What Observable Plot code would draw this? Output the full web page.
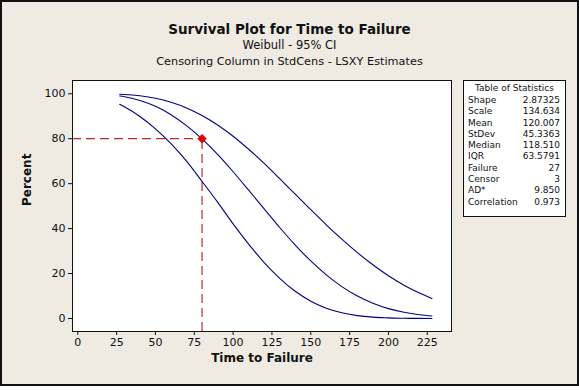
<!DOCTYPE html>
<html>
<head>
<meta charset="utf-8">
<script src="https://cdn.jsdelivr.net/npm/d3@7"></script>
<script src="https://cdn.jsdelivr.net/npm/@observablehq/plot@0.6"></script>
<style>
  html, body { margin: 0; padding: 0; background: #ffffff; }
  #wrap { position: relative; width: 579px; height: 391px; overflow: hidden; font-family: "DejaVu Sans", sans-serif; }
  #panel { position: absolute; left: 0; top: 0; width: 575px; height: 382px; border: 2px solid #111; background: #EFEBE3; }
  .ttl { position: absolute; left: 0; width: 579px; text-align: center; color: #111; white-space: nowrap; }
  #t1 { top: 21px; font-size: 13.5px; font-weight: bold; }
  #t2 { top: 38px; font-size: 11.5px; }
  #t3 { top: 55px; font-size: 11.3px; }
  #chart { position: absolute; left: 0; top: 0; }
  #stats { position: absolute; left: 463px; top: 80px; width: 101px; height: 135px; border: 1px solid #111; background: #fff; font-size: 9px; color: #111; }
  #stats .hd { text-align: center; margin-top: 2px; height: 12px; }
  #stats .row { position: relative; height: 11.3px; line-height: 11.3px; }
  #stats .row .l { position: absolute; left: 4px; }
  #stats .row .v { position: absolute; right: 5px; }
</style>
</head>
<body>
<div id="wrap">
  <div id="panel"></div>
  <div class="ttl" id="t1">Survival Plot for Time to Failure</div>
  <div class="ttl" id="t2">Weibull - 95% CI</div>
  <div class="ttl" id="t3">Censoring Column in StdCens - LSXY Estimates</div>
  <div id="chart"></div>
  <div id="stats"></div>
</div>
<script>
// Data
const times   = [27, 30, 40, 50, 60, 70, 80, 90, 100, 110, 120, 130, 140, 150, 160, 170, 180, 190, 200, 210, 220, 228];
const fitted  = [99.0, 98.7, 97.0, 94.4, 90.7, 85.8, 79.9, 73.0, 65.3, 57.1, 48.8, 40.5, 32.7, 25.6, 19.4, 14.2, 10.0, 6.8, 4.4, 2.8, 1.7, 1.1];
const lowerCI = [95.3, 94.2, 89.9, 84.4, 77.8, 70.0, 61.0, 51.8, 42.1, 33.1, 24.9, 17.9, 12.1, 7.7, 4.6, 2.6, 1.3, 0.6, 0.3, 0.1, 0.05, 0.02];
const upperCI = [99.8, 99.7, 99.1, 98.0, 96.2, 93.7, 90.3, 86.1, 81.1, 75.3, 69.0, 62.2, 55.3, 48.4, 41.7, 35.3, 29.3, 23.9, 19.0, 14.8, 11.3, 8.9];
const refTime = 80;
const refPercent = 80;
const xTicks = [0, 25, 50, 75, 100, 125, 150, 175, 200, 225];
const yTicks = [0, 20, 40, 60, 80, 100];
const statLabels = ["Shape", "Scale", "Mean", "StDev", "Median", "IQR", "Failure", "Censor", "AD*", "Correlation"];
const statValues = ["2.87325", "134.634", "120.007", "45.3363", "118.510", "63.5791", "27", "3", "9.850", "0.973"];

const xDomain = [-3.41, 240.6];
const yDomain = [-5.78, 105.9];

const rows = times.map((t, i) => ({t, fit: fitted[i], lo: lowerCI[i], hi: upperCI[i]}));
const navy = "#000080";
const dashRed = "#c0282a";

const chart = Plot.plot({
  width: 579,
  height: 391,
  marginLeft: 72,
  marginRight: 128,
  marginTop: 80,
  marginBottom: 60,
  style: {background: "transparent", fontFamily: "DejaVu Sans, sans-serif", fontSize: "11px", color: "#111", overflow: "visible"},
  x: {domain: xDomain},
  y: {domain: yDomain},
  marks: [
    Plot.frame({fill: "white", stroke: "none"}),
    Plot.ruleY([refPercent], {x1: xDomain[0], x2: refTime, stroke: dashRed, strokeWidth: 1.2, strokeDasharray: "9,5"}),
    Plot.ruleX([refTime], {y1: yDomain[0], y2: refPercent, stroke: dashRed, strokeWidth: 1.2, strokeDasharray: "9,5"}),
    Plot.line(rows, {x: "t", y: "hi", stroke: navy, strokeWidth: 1.1, curve: "monotone-x"}),
    Plot.line(rows, {x: "t", y: "fit", stroke: navy, strokeWidth: 1.1, curve: "monotone-x"}),
    Plot.line(rows, {x: "t", y: "lo", stroke: navy, strokeWidth: 1.1, curve: "monotone-x"}),
    Plot.dot([{t: refTime, p: refPercent}], {x: "t", y: "p", symbol: "diamond2", r: 4, fill: "#e00000", stroke: "#c00000", strokeWidth: 0.5}),
    Plot.frame({stroke: "#111", fill: "none"}),
    Plot.axisX({ticks: xTicks, tickSize: 4, tickPadding: 3, label: null, stroke: "#111"}),
    Plot.axisY({ticks: yTicks, tickSize: 4, tickPadding: 3, label: null, stroke: "#111"}),
    Plot.text(["Percent"], {frameAnchor: "left", dx: -45, rotate: -90, fontWeight: "bold", fontSize: 12, fill: "#111"}),
    Plot.text(["Time to Failure"], {frameAnchor: "bottom", dy: 30, fontWeight: "bold", fontSize: 12, fill: "#111"})
  ]
});
document.getElementById("chart").appendChild(chart);

const stats = document.getElementById("stats");
const hd = document.createElement("div");
hd.className = "hd";
hd.textContent = "Table of Statistics";
stats.appendChild(hd);
statLabels.forEach((lab, i) => {
  const r = document.createElement("div");
  r.className = "row";
  const l = document.createElement("span"); l.className = "l"; l.textContent = lab;
  const v = document.createElement("span"); v.className = "v"; v.textContent = statValues[i];
  r.appendChild(l); r.appendChild(v);
  stats.appendChild(r);
});
</script>
</body>
</html>
